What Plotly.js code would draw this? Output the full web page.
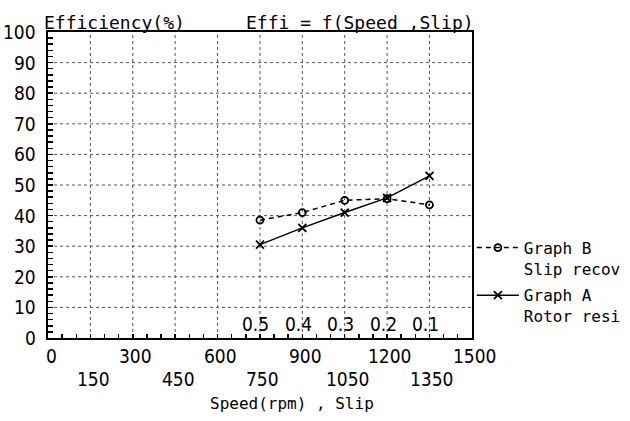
<!DOCTYPE html>
<html><head><meta charset="utf-8">
<script src="https://cdn.plot.ly/plotly-3.0.1.min.js"></script>
<style>html,body{margin:0;padding:0;background:#fff}</style>
</head><body><div id="chart" style="width:630px;height:421px"></div>
<script>
const speeds = [750, 900, 1050, 1200, 1350];
const slipLabels = ["0.5", "0.4", "0.3", "0.2", "0.1"];
const graphB = [38.5, 41, 45, 45.5, 43.5];
const graphA = [30.5, 36, 41, 45.8, 53];
const xTickVals = [0, 150, 300, 450, 600, 750, 900, 1050, 1200, 1350, 1500];
const xTickText = ["0", "150", "300", "450", "600", "750", "900", "1050", "1200", "1350", "1500"];
const yTickVals = [0, 10, 20, 30, 40, 50, 60, 70, 80, 90, 100];
const yTickText = ["0", "10", "20", "30", "40", "50", "60", "70", "80", "90", "100"];
const nameB = "Graph B<br>Slip recov";
const nameA = "Graph A<br>Rotor resi";

const mono = "DejaVu Sans Mono, monospace";
const cond = "DejaVu Sans Condensed, DejaVu Sans, sans-serif";
const narrow = "Liberation Sans Narrow, DejaVu Sans Condensed, sans-serif";

const traces = [
  {x: speeds, y: graphB, name: nameB, type: 'scatter', mode: 'lines+markers',
   line: {color: '#000', width: 1.5, dash: '5px,4px'},
   marker: {symbol: 'circle-open', size: 7, color: '#000', line: {width: 1.8, color: '#000'}},
   legendgroup: 'b'},
  {x: speeds, y: graphA, name: nameA, type: 'scatter', mode: 'lines+markers',
   line: {color: '#000', width: 1.5},
   marker: {symbol: 'x-thin-open', size: 8, color: '#000', line: {width: 1.8, color: '#000'}},
   legendgroup: 'a'}
];

const gridStyle = {color: '#555', width: 1, dash: 'dot'};
const shapes = [];
xTickVals.slice(1, -1).forEach(v => {
  shapes.push({type: 'line', xref: 'x', yref: 'paper', x0: v, x1: v, y0: 0, y1: 1,
    line: gridStyle, layer: 'below'});
});
yTickVals.slice(1, -1).forEach(v => {
  shapes.push({type: 'line', xref: 'paper', yref: 'y', x0: 0, x1: 1, y0: v, y1: v,
    line: gridStyle, layer: 'below'});
});

const annotations = [];
xTickVals.forEach((v, i) => {
  annotations.push({x: v, y: 0, xref: 'x', yref: 'paper', text: xTickText[i],
    showarrow: false, xanchor: 'center', yanchor: 'middle', xshift: 3,
    yshift: (i % 2 === 0) ? -18 : -41,
    font: {family: cond, size: 19, color: '#000'}});
});
yTickVals.forEach((v, i) => {
  annotations.push({x: 0, y: v, xref: 'paper', yref: 'y', text: yTickText[i],
    showarrow: false, xanchor: 'right', yanchor: 'middle', xshift: -10,
    font: {family: cond, size: 19, color: '#000'}});
});
speeds.forEach((v, i) => {
  annotations.push({x: v, y: 0, xref: 'x', yref: 'y', text: slipLabels[i],
    showarrow: false, xanchor: 'center', yanchor: 'bottom', xshift: -4, yshift: 1,
    font: {family: narrow, size: 19, color: '#000'}});
});
annotations.push({x: -0.014, y: 1, xref: 'paper', yref: 'paper', text: 'Efficiency(%)',
  showarrow: false, xanchor: 'left', yanchor: 'middle', yshift: 10,
  font: {family: mono, size: 18, color: '#000'}});
annotations.push({x: 0.4624, y: 1, xref: 'paper', yref: 'paper', text: 'Effi = f(Speed ,Slip)',
  showarrow: false, xanchor: 'left', yanchor: 'middle', yshift: 10,
  font: {family: mono, size: 18, color: '#000'}});
annotations.push({x: 0.576, y: 0, xref: 'paper', yref: 'paper', text: 'Speed(rpm) , Slip',
  showarrow: false, xanchor: 'center', yanchor: 'middle', yshift: -65,
  font: {family: mono, size: 16, color: '#000'}});

const layout = {
  width: 630, height: 421,
  margin: {l: 48, r: 156, t: 32, b: 83},
  paper_bgcolor: '#fff', plot_bgcolor: '#fff',
  showlegend: true,
  legend: {xref: 'container', yref: 'container', x: 0.749, xanchor: 'left', y: 0.452, yanchor: 'top', valign: 'top',
    font: {family: mono, size: 16, color: '#000'}, tracegroupgap: 3,
    traceorder: 'grouped', itemwidth: 42, bgcolor: 'rgba(0,0,0,0)'},
  xaxis: {range: [0, 1500], tickmode: 'linear', tick0: 0, dtick: 50, showticklabels: false,
    ticks: 'inside', ticklen: 4, tickwidth: 1.5, tickcolor: '#000',
    showgrid: false,
    showline: true, linecolor: '#000', linewidth: 2, mirror: true, zeroline: false, fixedrange: true},
  yaxis: {range: [0, 100], tickmode: 'linear', tick0: 0, dtick: 2, showticklabels: false,
    ticks: 'inside', ticklen: 5, tickwidth: 1.5, tickcolor: '#000',
    showgrid: false,
    showline: true, linecolor: '#000', linewidth: 2, mirror: true, zeroline: false, fixedrange: true},
  shapes: shapes,
  annotations: annotations
};

Plotly.newPlot('chart', traces, layout, {displayModeBar: false, staticPlot: true});
</script></body></html>
